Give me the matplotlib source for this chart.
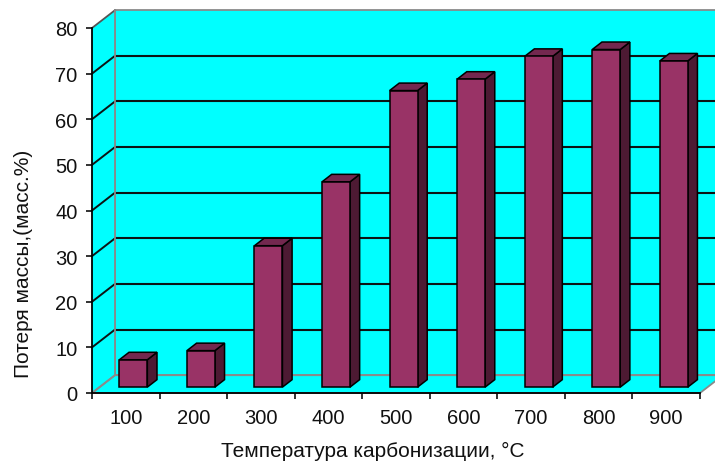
import matplotlib
matplotlib.use("Agg")
import matplotlib.pyplot as plt
from matplotlib.patches import Polygon

# Data
temperatures = ["100", "200", "300", "400", "500", "600", "700", "800", "900"]
mass_loss = [6, 8, 31, 45, 65, 67.5, 72.5, 74, 71.5]
y_ticks = [0, 10, 20, 30, 40, 50, 60, 70, 80]

plt.rcParams["font.family"] = ["Liberation Sans", "DejaVu Sans"]

W, H = 715, 464
fig = plt.figure(figsize=(W / 100, H / 100), dpi=100)
fig.patch.set_facecolor("white")

# front plane of the 3-D box in figure pixels
left_px, right_px, bottom_px, top_px = 92, 700, 394, 29
ax = fig.add_axes([left_px / W, (H - bottom_px) / H,
                   (right_px - left_px) / W, (bottom_px - top_px) / H])
n = len(temperatures)
ymax = y_ticks[-1]
ax.set_xlim(0, n)
ax.set_ylim(0, ymax)
ax.patch.set_visible(False)

# oblique depth of the box (data units)
DX, DY = 0.34, 3.9
wall = "#00FFFF"
edge_gray = "#8a8a8a"
grid_col = "#0c1414"

# back wall
ax.add_patch(Polygon([(DX, DY), (n + DX, DY), (n + DX, ymax + DY), (DX, ymax + DY)],
                     closed=True, facecolor=wall, edgecolor=edge_gray, lw=1.3,
                     clip_on=False, zorder=1))
# left side wall
ax.add_patch(Polygon([(0, 0), (DX, DY), (DX, ymax + DY), (0, ymax)],
                     closed=True, facecolor=wall, edgecolor="none",
                     clip_on=False, zorder=1))
# floor
ax.add_patch(Polygon([(0, 0), (n, 0), (n + DX, DY), (DX, DY)],
                     closed=True, facecolor=wall, edgecolor=edge_gray, lw=1.3,
                     clip_on=False, zorder=1))

# gridlines on back and side walls
for v in y_ticks[1:-1]:
    ax.plot([DX, n + DX], [v + DY, v + DY], color=grid_col, lw=1.5,
            clip_on=False, zorder=2, solid_capstyle="butt")
    ax.plot([0, DX], [v, v + DY], color=grid_col, lw=1.4,
            clip_on=False, zorder=2)
ax.plot([0, DX], [0, DY], color=edge_gray, lw=1.3, clip_on=False, zorder=2)
ax.plot([0, DX], [ymax, ymax + DY], color="#555555", lw=1.3, clip_on=False, zorder=2)
ax.plot([DX, DX], [DY, ymax + DY], color=edge_gray, lw=1.3, clip_on=False, zorder=2)

# 3-D columns
f0, f1 = 0.33, 0.75
bw = 0.414
ddx, ddy = (f1 - f0) * DX, (f1 - f0) * DY
front_c, side_c, top_c = "#993366", "#4D1A33", "#73284F"
for i, v in enumerate(mass_loss):
    b0 = f0 * DY
    x0 = i + 0.5 + f0 * DX - bw / 2
    x1 = x0 + bw
    t = b0 + v
    kw = dict(closed=True, edgecolor="black", lw=1.1, clip_on=False, zorder=4,
              joinstyle="miter")
    ax.add_patch(Polygon([(x1, b0), (x1 + ddx, b0 + ddy), (x1 + ddx, t + ddy), (x1, t)],
                         facecolor=side_c, **kw))
    ax.add_patch(Polygon([(x0, t), (x1, t), (x1 + ddx, t + ddy), (x0 + ddx, t + ddy)],
                         facecolor=top_c, **kw))
    ax.add_patch(Polygon([(x0, b0), (x1, b0), (x1, t), (x0, t)],
                         facecolor=front_c, **kw))

# axes lines and ticks
for s in ("top", "right"):
    ax.spines[s].set_visible(False)
for s in ("left", "bottom"):
    ax.spines[s].set_color("black")
    ax.spines[s].set_linewidth(1.3)
    ax.spines[s].set_zorder(5)

ax.set_yticks(y_ticks)
ax.set_yticklabels([str(v) for v in y_ticks])
ax.tick_params(axis="y", direction="out", length=4.5, width=1.3, color="#222222",
               labelsize=14.5, pad=6, labelcolor="#111111")

ax.set_xticks(range(n + 1))
ax.set_xticklabels([""] * (n + 1))
ax.set_xticks([i + 0.5 for i in range(n)], minor=True)
ax.set_xticklabels(temperatures, minor=True)
ax.tick_params(axis="x", which="major", direction="out", length=4.5, width=1.3,
               color="#222222")
ax.tick_params(axis="x", which="minor", length=0, labelsize=14.5, pad=11,
               labelcolor="#111111")

fig.text(24 / W, (H - 264) / H, "Потеря массы,(масс.%)", rotation=90,
         ha="center", va="center", fontsize=15, color="#111111")
fig.text(373 / W, (H - 451) / H, "Температура карбонизации, °C",
         ha="center", va="center", fontsize=15, color="#111111")

fig.savefig("out.png", dpi=100)
